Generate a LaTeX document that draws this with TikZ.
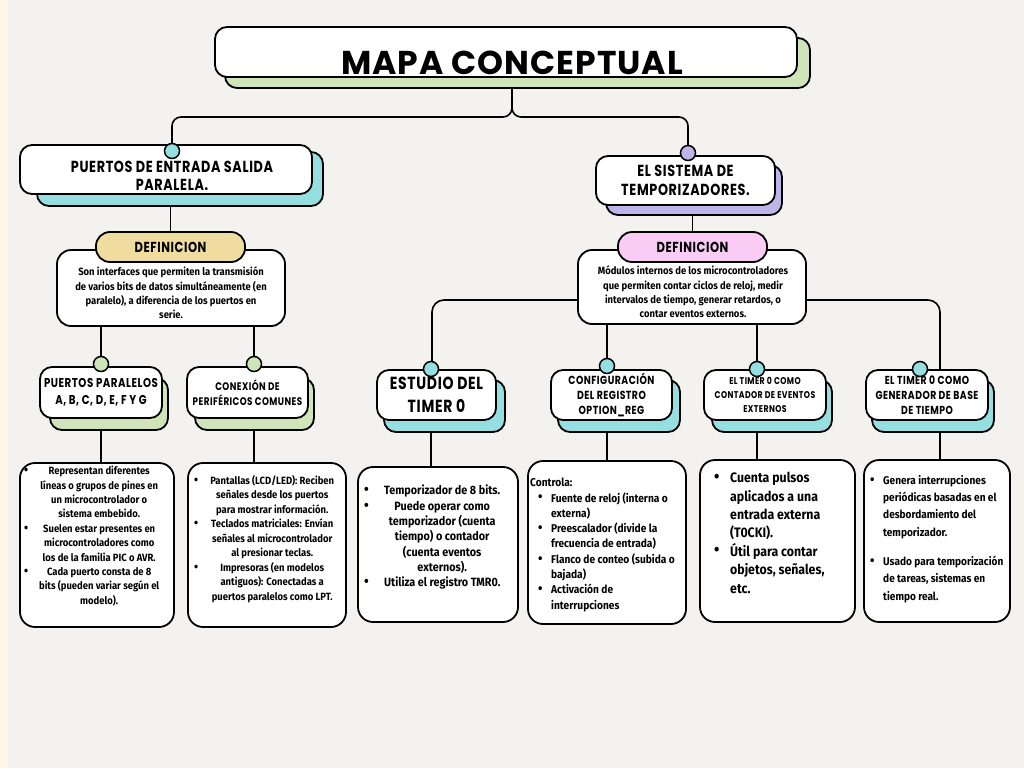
\documentclass[tikz,border=0pt]{standalone}
\usepackage{fontspec}
\usepackage{graphicx}
\setmainfont{Fira Sans}
\newfontfamily\handf{Poppins}[FakeStretch=0.8,LetterSpace=4]
\newfontfamily\titlef{Poppins}[LetterSpace=3]
\newfontfamily\bodyf{Fira Sans}[FakeStretch=0.9]
\usetikzlibrary{calc}
\pgfdeclarelayer{paper}
\pgfdeclarelayer{lines}
\pgfsetlayers{paper,lines,main}
\definecolor{paperc}{HTML}{F3F2EE}
\definecolor{creamc}{HTML}{FFF5E8}
\definecolor{greenc}{HTML}{CFE5B9}
\definecolor{cyanc}{HTML}{95DFE1}
\definecolor{lavc}{HTML}{BDB5EA}
\definecolor{tanc}{HTML}{F0DC9F}
\definecolor{pinkc}{HTML}{F9CBF5}
\newcommand\bul{\raisebox{0.02em}{\scalebox{1.25}{\textbullet}}}
% centred bullet lines: gap, width, text
\newcommand\bi[3]{\makebox[#1][l]{\bul}\makebox[#2][c]{#3}}
\newcommand\bc[3]{\makebox[#1]{}\makebox[#2][c]{#3}}
\newcommand\li[2]{\makebox[#1][l]{\bul}#2}
\newcommand\lc[2]{\makebox[#1]{}#2}
\tikzset{
  lw/.style={line width=1.8pt},
  box/.style={lw, draw=black, fill=white, rounded corners=12pt, inner sep=0pt},
  card/.style={lw, draw=black, fill=white, rounded corners=15pt, inner sep=0pt},
  shad/.style={lw, draw=black, rounded corners=12pt},
  conn/.style={line width=1.6pt, draw=black},
  dot/.style={circle, draw=black, line width=1.5pt, minimum size=15pt, inner sep=0pt},
  pill/.style={lw, draw=black, rounded corners=14pt, minimum width=149pt, minimum height=30pt, inner sep=0pt, font=\handf\bfseries\fontsize{14.5}{16}\selectfont},
  hd/.style={box, align=center, font=\handf\bfseries\fontsize{16}{19}\selectfont},
  lv/.style={box, align=center},
  deftext/.style={inner sep=0pt, align=center, font=\bodyf\bfseries\fontsize{10.5}{14.3}\selectfont},
  txt/.style={inner sep=0pt, anchor=north west, align=left},
}
\begin{document}
\begin{tikzpicture}[x=1pt,y=-1pt]
\begin{pgfonlayer}{paper}
\fill[paperc] (0,0) rectangle (1024,768);
\fill[creamc] (0,0) rectangle (8,768);
\end{pgfonlayer}
\useasboundingbox (0,0) rectangle (1024,768);

% ---------- shadows ----------
\draw[shad, fill=greenc] (225,38) rectangle (810,88);
\draw[shad, fill=cyanc] (37,152) rectangle (323,206);
\draw[shad, fill=lavc] (606,165) rectangle (782,215);
\draw[shad, fill=greenc] (50,378) rectangle (168,430);
\draw[shad, fill=greenc] (195,378) rectangle (314,430);
\draw[shad, fill=cyanc] (384,380) rectangle (505,432);
\draw[shad, fill=cyanc] (558,380) rectangle (680,432);
\draw[shad, fill=cyanc] (712,380) rectangle (832,432);
\draw[shad, fill=cyanc] (872,380) rectangle (994,432);

% ---------- title ----------
\node[box, minimum width=582pt, minimum height=50pt] (title) at (506,52) {};
\node[inner sep=0pt, font=\titlef\bfseries\fontsize{33}{36}\selectfont] (titletxt) at (512,63) {MAPA CONCEPTUAL};

% ---------- headers ----------
\node[hd, minimum width=292pt, minimum height=49pt] (hL) at (166,169.5) {};
\node[inner sep=0pt, align=center, font=\handf\bfseries\fontsize{16}{18.5}\selectfont] (hLt) at (172,176) {PUERTOS DE ENTRADA SALIDA\\PARALELA.};
\node[hd, minimum width=179pt, minimum height=49pt] (hR) at (685.5,180.5) {EL SISTEMA DE\\TEMPORIZADORES.};

% ---------- definitions ----------
\node[card, rounded corners=14pt, minimum width=228pt, minimum height=76pt] (defL) at (171,288) {};
\node[deftext] (defLt) at (171,293) {Son interfaces que permiten la transmisión\\de varios bits de datos simultáneamente (en\\paralelo), a diferencia de los puertos en\\serie.};
\node[pill, fill=tanc] (pillL) at (170.5,247) {DEFINICION};

\node[card, rounded corners=14pt, minimum width=228pt, minimum height=74pt] (defR) at (692,287) {};
\node[deftext] (defRt) at (693,292) {Módulos internos de los microcontroladores\\que permiten contar ciclos de reloj, medir\\intervalos de tiempo, generar retardos, o\\contar eventos externos.};
\node[pill, fill=pinkc] (pillR) at (692.5,247) {DEFINICION};

% ---------- level 3 ----------
\node[lv, minimum width=122pt, minimum height=51pt, font=\handf\bfseries\fontsize{12.8}{17}\selectfont] (L1) at (101,392.5) {PUERTOS PARALELOS\\A, B, C, D, E, F Y G};
\node[lv, minimum width=121pt, minimum height=51pt, font=\handf\bfseries\fontsize{11}{15.5}\selectfont] (L2) at (247.5,392.5) {CONEXIÓN DE\\PERIFÉRICOS COMUNES};
\node[lv, minimum width=119pt, minimum height=50pt, font=\handf\bfseries\fontsize{17.5}{23}\selectfont] (R1) at (436.5,395) {ESTUDIO DEL\\TIMER 0};
\node[lv, minimum width=121pt, minimum height=50pt, font=\handf\bfseries\fontsize{11.7}{15}\selectfont] (R2) at (611.5,395) {CONFIGURACIÓN\\DEL REGISTRO\\OPTION\_REG};
\node[lv, minimum width=122pt, minimum height=50pt, font=\handf\bfseries\fontsize{9.8}{14}\selectfont] (R3) at (765,395) {EL TIMER 0 COMO\\CONTADOR DE EVENTOS\\EXTERNOS};
\node[lv, minimum width=122pt, minimum height=50pt, font=\handf\bfseries\fontsize{11.6}{15}\selectfont] (R4) at (927,395) {EL TIMER 0 COMO\\GENERADOR DE BASE\\DE TIEMPO};

% ---------- bottom cards ----------
\node[card, minimum width=154pt, minimum height=164pt] (B1) at (97,545) {};
\node[card, minimum width=158pt, minimum height=164pt] (B2) at (267,545) {};
\node[card, minimum width=160pt, minimum height=155pt] (B3) at (438,544.5) {};
\node[card, minimum width=158pt, minimum height=163pt] (B4) at (607,542.5) {};
\node[card, minimum width=155pt, minimum height=162pt] (B5) at (777.5,541) {};
\node[card, minimum width=146pt, minimum height=162pt] (B6) at (937,541) {};

\node[txt, font=\bodyf\bfseries\fontsize{10.5}{14.4}\selectfont] (B1t) at (24,466) {%
\bi{8pt}{134pt}{Representan diferentes}\\
\bc{8pt}{134pt}{líneas o grupos de pines en}\\
\bc{8pt}{134pt}{un microcontrolador o}\\
\bc{8pt}{134pt}{sistema embebido.}\\
\bi{8pt}{134pt}{Suelen estar presentes en}\\
\bc{8pt}{134pt}{microcontroladores como}\\
\bc{8pt}{134pt}{los de la familia PIC o AVR.}\\
\bi{8pt}{134pt}{Cada puerto consta de 8}\\
\bc{8pt}{134pt}{bits (pueden variar según el}\\
\bc{8pt}{134pt}{modelo).}};

\node[txt, font=\bodyf\bfseries\fontsize{10.5}{14.5}\selectfont] (B2t) at (194,475) {%
\bi{10pt}{136pt}{Pantallas (LCD/LED): Reciben}\\
\bc{10pt}{136pt}{señales desde los puertos}\\
\bc{10pt}{136pt}{para mostrar información.}\\
\bi{10pt}{136pt}{Teclados matriciales: Envían}\\
\bc{10pt}{136pt}{señales al microcontrolador}\\
\bc{10pt}{136pt}{al presionar teclas.}\\
\bi{10pt}{136pt}{Impresoras (en modelos}\\
\bc{10pt}{136pt}{antiguos): Conectadas a}\\
\bc{10pt}{136pt}{puertos paralelos como LPT.}};

\node[txt, font=\bodyf\bfseries\fontsize{12}{15.3}\selectfont] (B3t) at (364,485) {%
\bi{12pt}{132pt}{Temporizador de 8 bits.}\\
\bi{12pt}{132pt}{Puede operar como}\\
\bc{12pt}{132pt}{temporizador (cuenta}\\
\bc{12pt}{132pt}{tiempo) o contador}\\
\bc{12pt}{132pt}{(cuenta eventos}\\
\bc{12pt}{132pt}{externos).}\\
\bi{12pt}{132pt}{Utiliza el registro TMR0.}};

\node[txt, font=\bodyf\bfseries\fontsize{11.3}{15.3}\selectfont] (B4t) at (530,478) {%
Controla:\\
\makebox[8pt]{}\li{13pt}{Fuente de reloj (interna o}\\
\makebox[8pt]{}\lc{13pt}{externa)}\\
\makebox[8pt]{}\li{13pt}{Preescalador (divide la}\\
\makebox[8pt]{}\lc{13pt}{frecuencia de entrada)}\\
\makebox[8pt]{}\li{13pt}{Flanco de conteo (subida o}\\
\makebox[8pt]{}\lc{13pt}{bajada)}\\
\makebox[8pt]{}\li{13pt}{Activación de}\\
\makebox[8pt]{}\lc{13pt}{interrupciones}};

\node[txt, font=\bodyf\bfseries\fontsize{13.7}{18.4}\selectfont] (B5t) at (714,472) {%
\li{16pt}{Cuenta pulsos}\\
\lc{16pt}{aplicados a una}\\
\lc{16pt}{entrada externa}\\
\lc{16pt}{(T0CKI).}\\
\li{16pt}{Útil para contar}\\
\lc{16pt}{objetos, señales,}\\
\lc{16pt}{etc.}};

\node[txt, font=\bodyf\bfseries\fontsize{11.2}{17.3}\selectfont] (B6t) at (870,475) {%
\li{13pt}{Genera interrupciones}\\
\lc{13pt}{periódicas basadas en el}\\
\lc{13pt}{desbordamiento del}\\
\lc{13pt}{temporizador.}\\[12pt]
\li{13pt}{Usado para temporización}\\
\lc{13pt}{de tareas, sistemas en}\\
\lc{13pt}{tiempo real.}};

% ---------- dots ----------
\node[dot, fill=cyanc] (cHL) at (172,151) {};
\node[dot, fill=lavc] (cHR) at (688,153) {};
\node[dot, fill=greenc] (cL1) at (101,364) {};
\node[dot, fill=greenc] (cL2) at (254,364) {};
\node[dot, fill=cyanc] (cR1) at (431,369) {};
\node[dot, fill=cyanc] (cR2) at (607,366) {};
\node[dot, fill=cyanc] (cR3) at (757,369) {};
\node[dot, fill=cyanc] (cR4) at (920,369) {};

% ---------- connectors ----------
\begin{pgfonlayer}{lines}
\draw[conn, rounded corners=9pt] ([xshift=6pt]title.south) |- (cHL |- 0,117) -- (cHL);
\draw[conn, rounded corners=9pt] ([xshift=6pt]title.south) |- (cHR |- 0,117) -- (cHR);
\draw[conn] (pillL.north |- hL.south) -- (pillL.north);
\draw[conn] (cL1 |- defL.south) -- (cL1);
\draw[conn] (cL2 |- defL.south) -- (cL2);
\draw[conn] (cL1 |- L1.south) -- (cL1 |- B1.north);
\draw[conn] (cL2 |- L2.south) -- (cL2 |- B2.north);
\draw[conn] (pillR.north |- hR.south) -- (pillR.north);
\draw[conn, rounded corners=12pt] (defR.west |- 0,300) -| ([xshift=1pt]cR1.center);
\draw[conn, rounded corners=12pt] (defR.east |- 0,300) -| ([xshift=13pt]R4.north);
\draw[conn] (cR2 |- defR.south) -- (cR2);
\draw[conn] (cR3 |- defR.south) -- (cR3);
\draw[conn] (cR1 |- R1.south) -- (cR1 |- B3.north);
\draw[conn] (cR2 |- R2.south) -- (cR2 |- B4.north);
\draw[conn] (cR3 |- R3.south) -- (cR3 |- B5.north);
\draw[conn] ([xshift=13pt]R4.south) -- ([xshift=13pt]R4.south |- B6.north);
\end{pgfonlayer}
\end{tikzpicture}
\end{document}
